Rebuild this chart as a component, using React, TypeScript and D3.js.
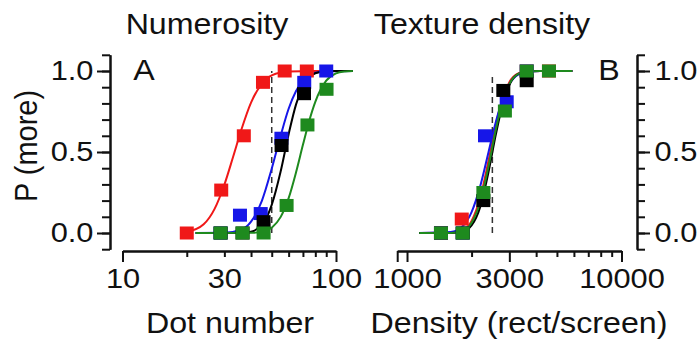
import { useEffect, useRef } from "react";
import * as d3 from "d3";

const WIDTH = 698;
const HEIGHT = 339;
const FONT = "'Liberation Sans', Arial, Helvetica, sans-serif";
const STRETCH = 1.1;

const COLORS = { red: "#f01818", blue: "#1616e8", black: "#000000", green: "#1e8a1e" };

// Panel A: numerosity (dot number) – measured points
const numRedX = [20, 29, 37, 45.5, 57.5, 73];
const numRedP = [0, 0.265, 0.6, 0.93, 1, 1];
const numBlueX = [28.8, 35.5, 44.4, 55.5, 71, 90];
const numBlueP = [0, 0.11, 0.12, 0.585, 0.93, 1];
const numBlackX = [28.8, 36.5, 45.8, 55.6, 70.8];
const numBlackP = [0, 0, 0.07, 0.54, 0.86];
const numGreenX = [28.8, 36.5, 45.8, 58.7, 73.5, 90.3];
const numGreenP = [0, 0, 0, 0.17, 0.667, 0.887];

// Panel A: fitted psychometric curves
const numRedFitX = [20, 24, 27, 30, 33, 36, 40, 45, 50, 60, 80, 120];
const numRedFitP = [0.006, 0.054, 0.149, 0.298, 0.472, 0.636, 0.805, 0.922, 0.973, 0.997, 1, 1];
const numBlueFitX = [22, 30, 36, 40, 45, 50, 55, 60, 65, 72, 80, 90, 120];
const numBlueFitP = [0, 0.001, 0.02, 0.07, 0.2, 0.397, 0.599, 0.767, 0.877, 0.956, 0.989, 0.998, 1];
const numBlackFitX = [22, 36, 40, 45, 50, 55, 60, 65, 70, 75, 80, 90, 120];
const numBlackFitP = [0, 0, 0.008, 0.05, 0.174, 0.378, 0.61, 0.794, 0.905, 0.962, 0.986, 0.999, 1];
const numGreenFitX = [22, 40, 45, 50, 55, 60, 65, 70, 75, 80, 90, 100, 110, 120];
const numGreenFitP = [0, 0.001, 0.007, 0.033, 0.098, 0.215, 0.375, 0.544, 0.695, 0.81, 0.94, 0.985, 0.997, 1];

// Panel B: texture density – measured points
const denRedX = [1440, 1800, 3614, 4590];
const denRedP = [0, 0.086, 1, 1];
const denBlueX = [1440, 1818, 2310, 2916, 3614];
const denBlueP = [0, 0, 0.6, 0.81, 1];
const denBlackX = [1440, 1818, 2269, 2812, 3614];
const denBlackP = [0, 0, 0.2, 0.88, 0.94];
const denGreenX = [1440, 1818, 2270, 2860, 3614, 4590];
const denGreenP = [0, 0, 0.25, 0.753, 1, 1];

// Panel B: fitted curves
const denFitX = [1140, 1600, 1800, 2000, 2200, 2400, 2600, 2800, 3000, 3300, 3700, 4200, 5900];
const denRedFitP = [0, 0.001, 0.013, 0.074, 0.223, 0.448, 0.674, 0.836, 0.931, 0.985, 0.999, 1, 1];
const denBlueFitP = [0, 0.006, 0.037, 0.129, 0.294, 0.5, 0.69, 0.83, 0.918, 0.977, 0.996, 1, 1];
const denBlackFitP = [0, 0, 0.007, 0.047, 0.166, 0.378, 0.614, 0.8, 0.913, 0.982, 0.998, 1, 1];
const denGreenFitP = [0, 0, 0.011, 0.063, 0.198, 0.413, 0.644, 0.816, 0.919, 0.982, 0.998, 1, 1];

// reference (standard) values, dashed lines
const numStandard = 50;
const denStandard = 2500;

// axis ticks
const pMinorTicks = d3.range(-1, 12).map((i) => i / 10);
const pMajorTicks = [0, 0.5, 1];
const numMinorTicks = [20, 30, 40, 50, 60, 70, 80, 90];
const numMajorTicks = [10, 100];
const numLabels = [10, 30, 100];
const denMinorTicks = [2000, 4000, 5000, 6000, 7000, 8000, 9000];
const denMajorTicks = [900, 1000, 3000, 10000];
const denLabels = [1000, 3000, 10000];

const yScale = d3.scaleLinear().domain([-0.1, 1.1]).range([249.2, 54.8]);
const xNum = d3.scaleLog().domain([10, 100]).range([122.5, 336]);
const xDen = d3.scaleLog().domain([900, 10000]).range([397.2, 621.5]);

const X_AXIS_Y = 251;
const LEFT_AXIS_X = 110;
const RIGHT_AXIS_X = 637;
const SQ_W = 14;
const SQ_H = 13;

type Series = { xs: number[]; ps: number[]; color: string };

const fitLine = (xScale: d3.ScaleLogarithmic<number, number>, xs: number[], ps: number[]) =>
  d3
    .line<number>()
    .x((d) => xScale(d))
    .y((_, i) => yScale(ps[i]))
    .curve(d3.curveMonotoneX)(xs) ?? "";

export default function App() {
  const axesRef = useRef<SVGGElement>(null);

  const numFits: Series[] = [
    { xs: numRedFitX, ps: numRedFitP, color: COLORS.red },
    { xs: numBlueFitX, ps: numBlueFitP, color: COLORS.blue },
    { xs: numBlackFitX, ps: numBlackFitP, color: COLORS.black },
    { xs: numGreenFitX, ps: numGreenFitP, color: COLORS.green },
  ];
  const numPoints: Series[] = [
    { xs: numRedX, ps: numRedP, color: COLORS.red },
    { xs: numBlueX, ps: numBlueP, color: COLORS.blue },
    { xs: numBlackX, ps: numBlackP, color: COLORS.black },
    { xs: numGreenX, ps: numGreenP, color: COLORS.green },
  ];
  const denFits: Series[] = [
    { xs: denFitX, ps: denRedFitP, color: COLORS.red },
    { xs: denFitX, ps: denBlueFitP, color: COLORS.blue },
    { xs: denFitX, ps: denBlackFitP, color: COLORS.black },
    { xs: denFitX, ps: denGreenFitP, color: COLORS.green },
  ];
  const denPoints: Series[] = [
    { xs: denRedX, ps: denRedP, color: COLORS.red },
    { xs: denBlueX, ps: denBlueP, color: COLORS.blue },
    { xs: denBlackX, ps: denBlackP, color: COLORS.black },
    { xs: denGreenX, ps: denGreenP, color: COLORS.green },
  ];

  useEffect(() => {
    const g = d3.select(axesRef.current);
    g.selectAll("*").remove();

    const add = (axis: any, transform: string) =>
      g.append("g").attr("transform", transform).call(axis);

    // left P axis
    add(d3.axisLeft(yScale).tickValues(pMinorTicks).tickSize(8).tickSizeOuter(0).tickFormat(() => ""), `translate(${LEFT_AXIS_X},0)`);
    add(d3.axisLeft(yScale).tickValues(pMajorTicks).tickSize(13).tickSizeOuter(0).tickPadding(2).tickFormat(d3.format(".1f")), `translate(${LEFT_AXIS_X},0)`);
    // right P axis
    add(d3.axisRight(yScale).tickValues(pMinorTicks).tickSize(8).tickSizeOuter(0).tickFormat(() => ""), `translate(${RIGHT_AXIS_X},0)`);
    add(d3.axisRight(yScale).tickValues(pMajorTicks).tickSize(13).tickSizeOuter(0).tickPadding(3).tickFormat(d3.format(".1f")), `translate(${RIGHT_AXIS_X},0)`);

    // dot number axis
    add(d3.axisBottom(xNum).tickValues(numMinorTicks).tickSize(6).tickSizeOuter(0).tickFormat(() => ""), `translate(0,${X_AXIS_Y})`);
    add(d3.axisBottom(xNum).tickValues(numMajorTicks).tickSize(11).tickSizeOuter(0).tickFormat(() => ""), `translate(0,${X_AXIS_Y})`);
    add(d3.axisBottom(xNum).tickValues(numLabels).tickSize(0).tickPadding(17).tickFormat(d3.format("d")), `translate(0,${X_AXIS_Y})`)
      .call((s: any) => s.select(".domain").remove());

    // density axis
    add(d3.axisBottom(xDen).tickValues(denMinorTicks).tickSize(6).tickSizeOuter(0).tickFormat(() => ""), `translate(0,${X_AXIS_Y})`);
    add(d3.axisBottom(xDen).tickValues(denMajorTicks).tickSize(11).tickSizeOuter(0).tickFormat(() => ""), `translate(0,${X_AXIS_Y})`);
    add(d3.axisBottom(xDen).tickValues(denLabels).tickSize(0).tickPadding(17).tickFormat(d3.format("d")), `translate(0,${X_AXIS_Y})`)
      .call((s: any) => s.select(".domain").remove());

    g.selectAll(".domain, .tick line").attr("stroke", "#111").attr("stroke-width", 2);
    g.selectAll("text")
      .attr("font-size", 28)
      .attr("font-family", FONT)
      .attr("fill", "#111")
      .attr("transform", `scale(${STRETCH},1)`);
  }, []);

  const squares = (xScale: d3.ScaleLogarithmic<number, number>, s: Series, key: string) =>
    s.xs.map((x, i) => (
      <rect
        key={`${key}-${i}`}
        x={xScale(x) - SQ_W / 2}
        y={yScale(s.ps[i]) - SQ_H / 2}
        width={SQ_W}
        height={SQ_H}
        fill={s.color}
      />
    ));

  const textStyle = { fontFamily: FONT, fontSize: 29, fill: "#111" };
  const TS = 1.11;

  return (
    <svg width={WIDTH} height={HEIGHT} style={{ position: "absolute", left: 0, top: 0, background: "#fff" }}>
      {/* titles */}
      <text transform={`translate(207,34) scale(${TS},1)`} textAnchor="middle" style={textStyle}>Numerosity</text>
      <text transform={`translate(482,34) scale(${TS},1)`} textAnchor="middle" style={textStyle}>Texture density</text>
      <text transform={`translate(144,80) scale(${TS},1)`} textAnchor="middle" style={textStyle}>A</text>
      <text transform={`translate(609,80) scale(${TS},1)`} textAnchor="middle" style={textStyle}>B</text>
      <text transform={`translate(230,333) scale(${TS},1)`} textAnchor="middle" style={textStyle}>Dot number</text>
      <text transform={`translate(519,333) scale(${TS},1)`} textAnchor="middle" style={textStyle}>Density (rect/screen)</text>
      <text transform={`translate(37,146) scale(${TS},1) rotate(-90)`} textAnchor="middle" style={textStyle}>P (more)</text>

      {/* dashed standards */}
      <line x1={xNum(numStandard)} x2={xNum(numStandard)} y1={yScale(0)} y2={yScale(1)} stroke="#333" strokeWidth={1.5} strokeDasharray="6,4" />
      <line x1={xDen(denStandard)} x2={xDen(denStandard)} y1={yScale(0)} y2={yScale(0.97)} stroke="#333" strokeWidth={1.5} strokeDasharray="6,4" />

      {/* panel A */}
      {numFits.map((s, i) => (
        <path key={`nf${i}`} d={fitLine(xNum, s.xs, s.ps)} fill="none" stroke={s.color} strokeWidth={2} />
      ))}
      {numPoints.map((s, i) => squares(xNum, s, `np${i}`))}

      {/* panel B */}
      {denFits.map((s, i) => (
        <path key={`df${i}`} d={fitLine(xDen, s.xs, s.ps)} fill="none" stroke={s.color} strokeWidth={2} />
      ))}
      {denPoints.map((s, i) => squares(xDen, s, `dp${i}`))}

      <g ref={axesRef} />
    </svg>
  );
}
